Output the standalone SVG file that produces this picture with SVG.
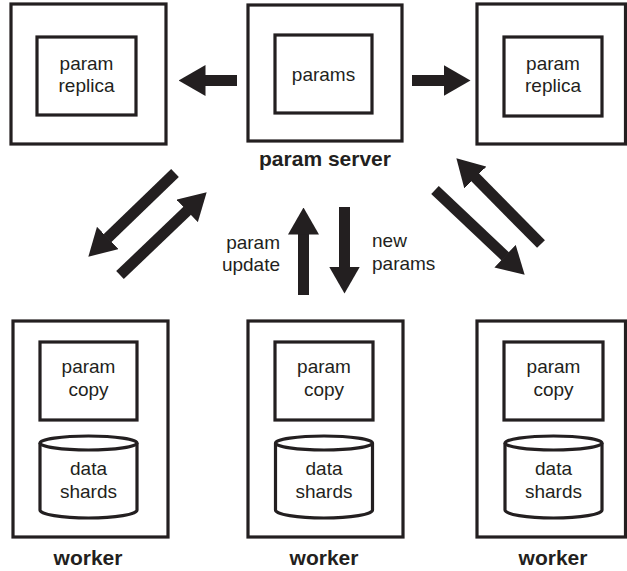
<svg xmlns="http://www.w3.org/2000/svg" width="627" height="571" viewBox="0 0 627 571">
<style>
.box{fill:#fff;stroke:#231f20;stroke-width:3.2}
.t{font-family:"Liberation Sans",Arial,Helvetica,sans-serif;font-size:19px;fill:#231f20;text-anchor:middle}
.b{font-family:"Liberation Sans",Arial,Helvetica,sans-serif;font-size:21px;font-weight:bold;fill:#231f20;text-anchor:middle}
.conn{stroke:#231f20;stroke-width:11;fill:none;marker-end:url(#head)}
</style>
<defs>
<marker id="head" markerUnits="userSpaceOnUse" viewBox="0 0 27 31" refX="0.5" refY="15.5" markerWidth="27" markerHeight="31" orient="auto">
<path d="M0,0 L27,15.5 L0,31 Z" fill="#231f20"/>
</marker>
<path id="cyl" d="M0,0 L0,67 A48.5,8 0 0 0 97,67 L97,0" class="box"/>
</defs>
<rect width="627" height="571" fill="#fff"/>
<g id="replica-left">
<rect class="box" x="11" y="4" width="155" height="140"/>
<rect class="box" x="37" y="37" width="99" height="78"/>
<text class="t" x="86.5" y="70">param</text>
<text class="t" x="86.5" y="92">replica</text>
</g>
<g id="param-server">
<rect class="box" x="248" y="5" width="154" height="136"/>
<rect class="box" x="275" y="35" width="97" height="78"/>
<text class="t" x="323.5" y="81">params</text>
<text class="b" x="325" y="166">param server</text>
</g>
<g id="replica-right">
<rect class="box" x="477" y="4" width="148.5" height="140"/>
<rect class="box" x="504" y="37" width="98" height="79"/>
<text class="t" x="553" y="70">param</text>
<text class="t" x="553" y="92">replica</text>
</g>
<g id="worker-left">
<rect class="box" x="13" y="321" width="155" height="216"/>
<rect class="box" x="40" y="342" width="97" height="78"/>
<text class="t" x="88.5" y="373">param</text>
<text class="t" x="88.5" y="396">copy</text>
<use href="#cyl" x="40" y="443"/>
<ellipse class="box" cx="88.5" cy="443" rx="48.5" ry="7"/>
<text class="t" x="88.5" y="475">data</text>
<text class="t" x="88.5" y="498">shards</text>
<text class="b" x="88" y="565">worker</text>
</g>
<g id="worker-middle">
<rect class="box" x="248" y="321" width="155" height="216"/>
<rect class="box" x="275" y="342" width="98" height="78"/>
<text class="t" x="324" y="373">param</text>
<text class="t" x="324" y="396">copy</text>
<use href="#cyl" x="275.5" y="443"/>
<ellipse class="box" cx="324" cy="443" rx="48.5" ry="7"/>
<text class="t" x="324" y="475">data</text>
<text class="t" x="324" y="498">shards</text>
<text class="b" x="324" y="565">worker</text>
</g>
<g id="worker-right">
<rect class="box" x="477" y="321" width="148.5" height="216"/>
<rect class="box" x="504" y="342" width="99" height="78"/>
<text class="t" x="553.5" y="373">param</text>
<text class="t" x="553.5" y="396">copy</text>
<use href="#cyl" x="505" y="443"/>
<ellipse class="box" cx="553.5" cy="443" rx="48.5" ry="7"/>
<text class="t" x="553.5" y="475">data</text>
<text class="t" x="553.5" y="498">shards</text>
<text class="b" x="553" y="565">worker</text>
</g>
<g id="connectors">
<line class="conn" x1="237" y1="80.5" x2="205" y2="80.5"/>
<line class="conn" x1="412" y1="80.5" x2="444" y2="80.5"/>
<line class="conn" x1="303.5" y1="295" x2="303.5" y2="234"/>
<line class="conn" x1="344.5" y1="207" x2="344.5" y2="267"/>
<line class="conn" x1="175" y1="173" x2="107.4" y2="238.3"/>
<line class="conn" x1="120" y1="275" x2="187.5" y2="210.6"/>
<line class="conn" x1="541" y1="244" x2="475" y2="177.2"/>
<line class="conn" x1="435" y1="190" x2="505.4" y2="256.5"/>
</g>
<g id="labels">
<text class="t" x="280" y="249" style="text-anchor:end">param</text>
<text class="t" x="280" y="271" style="text-anchor:end">update</text>
<text class="t" x="372" y="247" style="text-anchor:start">new</text>
<text class="t" x="372" y="270" style="text-anchor:start">params</text>
</g>
</svg>
